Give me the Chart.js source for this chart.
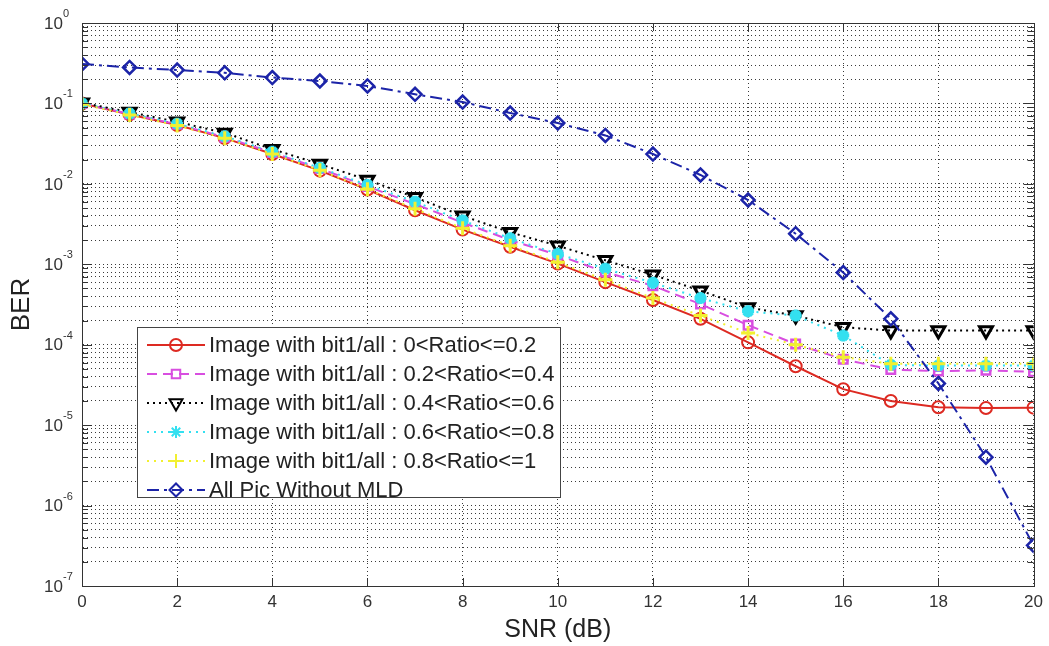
<!DOCTYPE html>
<html>
<head>
<meta charset="utf-8">
<script src="https://cdn.jsdelivr.net/npm/chart.js@4.4.0/dist/chart.umd.min.js"></script>
<style>
  html, body { margin: 0; padding: 0; background: #fff; }
  #wrap { width: 1049px; height: 646px; }
</style>
</head>
<body>
<div id="wrap"><canvas id="ber" width="1049" height="646"></canvas></div>
<script>
const snr = [0, 1, 2, 3, 4, 5, 6, 7, 8, 9, 10, 11, 12, 13, 14, 15, 16, 17, 18, 19, 20];

const ratio02 = [0.1, 0.073, 0.054, 0.037, 0.0235, 0.0146, 0.0085, 0.0047, 0.0027, 0.00165, 0.00102,
  6.0e-4, 3.6e-4, 2.1e-4, 1.07e-4, 5.4e-5, 2.8e-5, 2.0e-5, 1.67e-5, 1.63e-5, 1.65e-5];
const ratio04 = [0.1, 0.074, 0.055, 0.038, 0.0245, 0.0155, 0.0093, 0.0056, 0.0033, 0.002, 0.0013,
  8.0e-4, 5.4e-4, 3.2e-4, 1.75e-4, 1.02e-4, 6.6e-5, 4.9e-5, 4.7e-5, 4.8e-5, 4.6e-5];
const ratio06 = [0.102, 0.078, 0.059, 0.043, 0.027, 0.0176, 0.0112, 0.0068, 0.004, 0.0025, 0.0017,
  0.00112, 7.4e-4, 4.7e-4, 2.9e-4, 2.3e-4, 1.65e-4, 1.5e-4, 1.5e-4, 1.5e-4, 1.5e-4];
const ratio08 = [0.1, 0.075, 0.056, 0.039, 0.025, 0.0158, 0.0097, 0.006, 0.0035, 0.0021, 0.00135,
  8.8e-4, 5.9e-4, 3.8e-4, 2.6e-4, 2.3e-4, 1.3e-4, 5.6e-5, 5.5e-5, 5.5e-5, 5.5e-5];
const ratio10 = [0.098, 0.072, 0.053, 0.037, 0.0235, 0.0148, 0.0086, 0.0049, 0.0028, 0.0017, 0.00106,
  6.4e-4, 3.8e-4, 2.3e-4, 1.4e-4, 1.0e-4, 7.0e-5, 5.8e-5, 5.8e-5, 5.8e-5, 5.8e-5];
const noMld = [0.31, 0.28, 0.26, 0.24, 0.21, 0.19, 0.165, 0.13, 0.104, 0.076, 0.057,
  0.04, 0.0235, 0.0129, 0.0063, 0.0024, 7.9e-4, 2.1e-4, 3.3e-5, 4.0e-6, 3.2e-7];

const seriesNames = [
  'Image with bit1/all : 0<Ratio<=0.2',
  'Image with bit1/all : 0.2<Ratio<=0.4',
  'Image with bit1/all : 0.4<Ratio<=0.6',
  'Image with bit1/all : 0.6<Ratio<=0.8',
  'Image with bit1/all : 0.8<Ratio<=1',
  'All Pic Without MLD',
];

const decades = [-7, -6, -5, -4, -3, -2, -1, 0];
const mantissas = [1, 2, 3, 4, 5, 6, 7, 8, 9];
const xTicks = [0, 2, 4, 6, 8, 10, 12, 14, 16, 18, 20];

const FONT = "'Liberation Sans', Arial, sans-serif";

const yTickValues = [];
decades.forEach(d => mantissas.forEach(m => {
  const v = m * Math.pow(10, d);
  if (v <= 1.0000001) yTickValues.push(v);
}));

const styles = [
  { color: '#dd2a22', dash: [], style: 'circle', r: 6, bw: 2, fill: 'rgba(0,0,0,0)', rot: 0 },
  { color: '#d84ee0', dash: [10, 6], style: 'rect', r: 6, bw: 2.5, fill: 'rgba(0,0,0,0)', rot: 0 },
  { color: '#000000', dash: [2, 4], style: 'triangle', r: 7.5, bw: 3, fill: 'rgba(0,0,0,0)', rot: 180 },
  { color: '#33e0f0', dash: [2, 5], style: 'star', r: 6, bw: 4, fill: '#33e0f0', rot: 0 },
  { color: '#f2f030', dash: [2, 5], style: 'cross', r: 7, bw: 3, fill: 'rgba(0,0,0,0)', rot: 0 },
  { color: '#1c24a8', dash: [12, 5, 3, 5], style: 'rectRot', r: 6.5, bw: 2.5, fill: 'rgba(0,0,0,0)', rot: 0 },
];

const series = [ratio02, ratio04, ratio06, ratio08, ratio10, noMld];

const datasets = series.map((vals, i) => ({
  label: seriesNames[i],
  data: snr.map((x, k) => ({ x, y: vals[k] })),
  borderColor: styles[i].color,
  backgroundColor: styles[i].color,
  borderWidth: 2,
  borderDash: styles[i].dash,
  pointStyle: styles[i].style,
  pointRadius: styles[i].r,
  pointBorderWidth: styles[i].bw,
  pointBorderColor: styles[i].color,
  pointBackgroundColor: styles[i].fill,
  pointRotation: styles[i].rot,
  tension: 0,
  fill: false,
  order: -i,
}));

// box, inner ticks and y tick labels (10^k)
const axesDecor = {
  id: 'axesDecor',
  afterDraw(chart) {
    const { ctx, chartArea: a, scales } = chart;
    const xs = scales.x, ys = scales.y;
    ctx.save();
    ctx.strokeStyle = '#333';
    ctx.lineWidth = 1;
    ctx.setLineDash([]);
    ctx.beginPath();
    xTicks.forEach(t => {
      const px = Math.round(xs.getPixelForValue(t)) + 0.5;
      ctx.moveTo(px, a.bottom); ctx.lineTo(px, a.bottom - 8);
      ctx.moveTo(px, a.top); ctx.lineTo(px, a.top + 8);
    });
    yTickValues.forEach(v => {
      const py = Math.round(ys.getPixelForValue(v)) + 0.5;
      const len = Math.abs(Math.log10(v) - Math.round(Math.log10(v))) < 1e-6 ? 10 : 6;
      ctx.moveTo(a.left, py); ctx.lineTo(a.left + len, py);
      ctx.moveTo(a.right, py); ctx.lineTo(a.right - len, py);
    });
    ctx.stroke();
    ctx.strokeRect(Math.round(a.left) + 0.5, Math.round(a.top) + 0.5,
      Math.round(a.right - a.left), Math.round(a.bottom - a.top));

    ctx.fillStyle = '#333';
    decades.forEach(d => {
      const py = ys.getPixelForValue(Math.pow(10, d));
      ctx.font = '17px ' + FONT;
      ctx.textAlign = 'right';
      ctx.textBaseline = 'middle';
      ctx.fillText('10', a.left - 19, py + 1);
      ctx.font = '11px ' + FONT;
      ctx.textAlign = 'left';
      ctx.fillText(String(d), a.left - 19, py - 9);
    });
    ctx.restore();
  }
};

// MATLAB-like legend box inside the axes
const boxLegend = {
  id: 'boxLegend',
  afterDraw(chart) {
    const { ctx } = chart;
    const left = 137, top = 327, w = 423, h = 170, rowH = 29;
    ctx.save();
    ctx.fillStyle = '#fff';
    ctx.fillRect(left, top, w, h);
    ctx.strokeStyle = '#444';
    ctx.lineWidth = 1;
    ctx.strokeRect(left + 0.5, top + 0.5, w, h);
    chart.data.datasets.forEach((ds, i) => {
      const y = top + 18 + i * rowH;
      ctx.strokeStyle = ds.borderColor;
      ctx.lineWidth = ds.borderWidth;
      ctx.setLineDash(ds.borderDash);
      ctx.beginPath();
      ctx.moveTo(left + 10, y);
      ctx.lineTo(left + 68, y);
      ctx.stroke();
      ctx.setLineDash([]);
      ctx.fillStyle = ds.pointBackgroundColor;
      Chart.helpers.drawPoint(ctx, {
        pointStyle: ds.pointStyle,
        radius: ds.pointRadius,
        rotation: ds.pointRotation,
        borderWidth: ds.pointBorderWidth,
      }, left + 39, y);
      ctx.fillStyle = '#222';
      ctx.font = '22px ' + FONT;
      ctx.textAlign = 'left';
      ctx.textBaseline = 'middle';
      ctx.fillText(ds.label, left + 72, y + 1);
    });
    ctx.restore();
  }
};

new Chart(document.getElementById('ber'), {
  type: 'line',
  data: { datasets },
  plugins: [axesDecor, boxLegend],
  options: {
    responsive: false,
    animation: false,
    devicePixelRatio: 1,
    layout: { padding: { left: 0, right: 12, top: 23, bottom: 0 } },
    plugins: { legend: { display: false }, tooltip: { enabled: false } },
    scales: {
      x: {
        type: 'linear',
        min: 0,
        max: 20,
        afterBuildTicks: s => { s.ticks = xTicks.map(v => ({ value: v })); },
        afterFit: s => { s.height = 60; },
        ticks: { font: { family: FONT, size: 17 }, color: '#333', padding: 6, maxRotation: 0 },
        grid: { color: '#3a3a3a', lineWidth: 1, drawTicks: false },
        border: { display: true, color: '#333', width: 1, dash: [1, 3] },
        title: {
          display: true, text: 'SNR (dB)', color: '#222',
          font: { family: FONT, size: 25 }, padding: { top: 0, bottom: 1 }
        }
      },
      y: {
        type: 'logarithmic',
        min: 1e-7,
        max: 1,
        afterBuildTicks: s => { s.ticks = yTickValues.map(v => ({ value: v })); },
        afterFit: s => { s.width = 82; },
        ticks: { display: false },
        grid: { color: '#3a3a3a', lineWidth: 1, drawTicks: false },
        border: { display: true, color: '#333', width: 1, dash: [1, 3] },
        title: {
          display: true, text: 'BER', color: '#222',
          font: { family: FONT, size: 26 }, padding: { top: 6, bottom: 0 }
        }
      }
    }
  }
});
</script>
</body>
</html>
